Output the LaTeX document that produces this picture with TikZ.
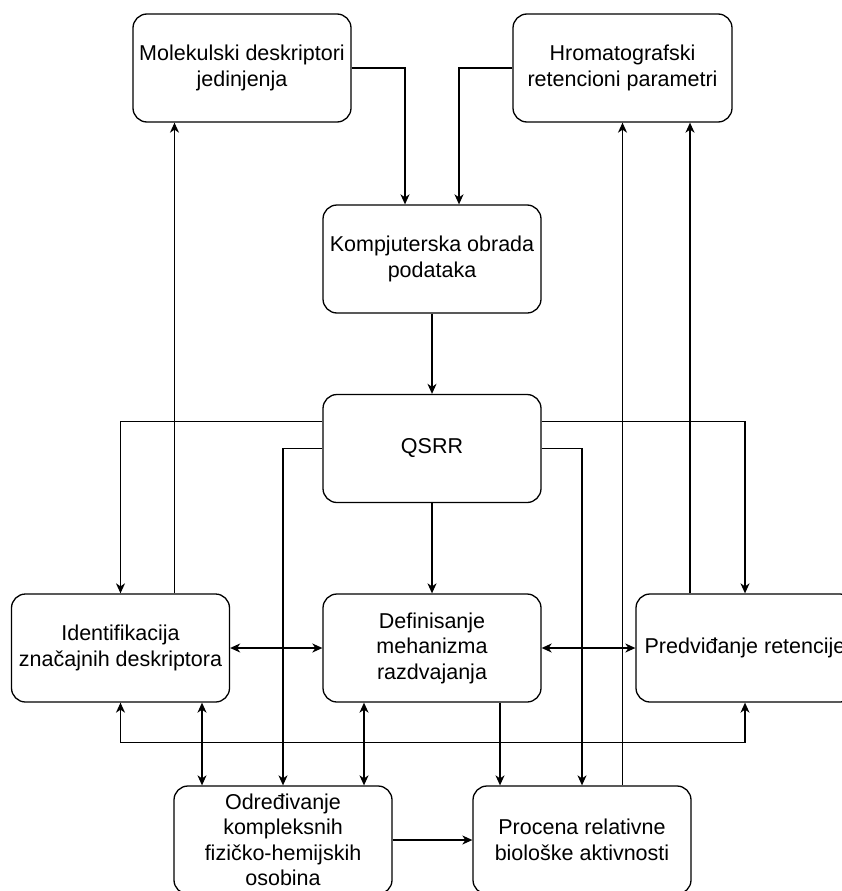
\documentclass[tikz,border=0pt]{standalone}
\usepackage{fontspec}
\setmainfont{Liberation Sans}
\usepackage{tikz}
\usetikzlibrary{arrows.meta,calc}

\begin{document}
\begin{tikzpicture}[
  x=1pt, y=-1pt,
  line width=1.3pt,
  >={Stealth[length=10pt,width=9pt,inset=3pt]},
  mybox/.style={
    draw,
    rectangle,
    rounded corners=14pt,
    minimum width=#1,
    minimum height=108pt,
    inner sep=2pt,
    align=center,
    font=\fontsize{21.5}{25.5}\selectfont
    },
  mybox/.default=218pt
]
\useasboundingbox (0,0) rectangle (842,891);
\clip (0,0) rectangle (842,891);

\node[mybox] (mol) at (242,68) {Molekulski deskriptori\\jedinjenja};
\node[mybox=219pt] (hrom) at (622.5,68) {Hromatografski\\retencioni parametri};
\node[mybox] (komp) at (432,259) {Kompjuterska obrada\\podataka};
\node[mybox] (qsrr) at (432,448.5) {QSRR};
\node[mybox] (ident) at (120.5,648) {Identifikacija\\značajnih deskriptora};
\node[mybox] (def) at (432,648) {Definisanje\\mehanizma\\razdvajanja};
\node[mybox] (pred) at (745,648) {Predviđanje retencije};
\node[mybox] (odr) at (283,840) {Određivanje\\kompleksnih\\fizičko-hemijskih\\osobina};
\node[mybox] (proc) at (582,840) {Procena relativne\\biološke aktivnosti};

\draw[->] (mol.east) -| ([xshift=-27pt]komp.north);
\draw[->] (hrom.west) -| ([xshift=27pt]komp.north);
\draw[->] (komp.south) -- (qsrr.north);
\draw[->] ([yshift=27pt]qsrr.west) -| (ident.north);
\draw[->] (qsrr.west) -| (odr.north);
\draw[->] ([yshift=27pt]qsrr.east) -| (pred.north);
\draw[->] (qsrr.east) -| (proc.north);
\draw[->] (qsrr.south) -- (def.north);
\draw[<->] (ident.east) -- (def.west);
\draw[<->] (def.east) -- (pred.west);
\draw[->] ([xshift=54pt]ident.north) -- ([xshift=-67.5pt]mol.south);
\draw[->] ([xshift=-55pt]pred.north) -- ([xshift=67.5pt]hrom.south);
\draw[->] ([xshift=40.5pt]proc.north) -- (hrom.south);
\draw[->] ([xshift=68pt]def.south) -- ([xshift=-82pt]proc.north);
\draw[<->] ([xshift=-68pt]def.south) -- ([xshift=81pt]odr.north);
\draw[<->] ([xshift=81.5pt]ident.south) -- ([xshift=-81pt]odr.north);
\draw[<->] (ident.south) -- ++(0,40) -| (pred.south);
\draw[->] (odr.east) -- (proc.west);
\end{tikzpicture}
\end{document}
